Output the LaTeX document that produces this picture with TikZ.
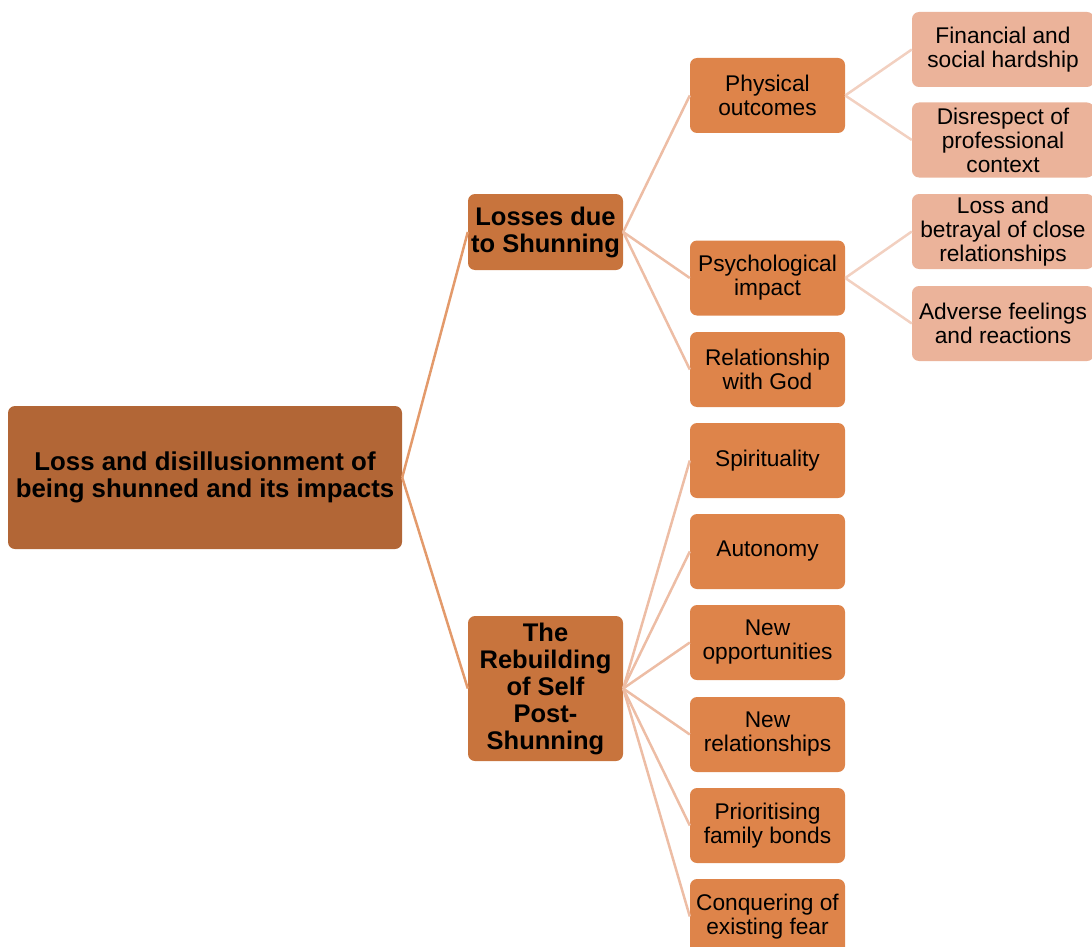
\documentclass[tikz,border=0pt]{standalone}
\usepackage{fontspec}
\setmainfont{Liberation Sans}
\begin{document}
\definecolor{rootc}{HTML}{B26636}
\definecolor{lvonec}{HTML}{C8743D}
\definecolor{lvtwoc}{HTML}{DE844A}
\definecolor{lvthreec}{HTML}{EBB39A}
\definecolor{linea}{HTML}{E39A6B}
\definecolor{lineb}{HTML}{EDBDA5}
\definecolor{linec}{HTML}{F2D0C0}
\begin{tikzpicture}[x=1pt,y=-1pt,
  box/.style={rounded corners=7pt, inner sep=0pt, align=center, text=black},
  rootbox/.style={box, fill=rootc, minimum width=394pt, minimum height=143pt,
    font=\bfseries\fontsize{25.8}{27}\selectfont},
  lvone/.style={box, fill=lvonec, minimum width=155pt, font=\bfseries\fontsize{25.5}{27}\selectfont},
  lvtwo/.style={box, fill=lvtwoc, minimum width=155pt, minimum height=75pt,
    font=\fontsize{22.7}{24}\selectfont},
  lvthree/.style={box, fill=lvthreec, minimum width=182pt, minimum height=75pt,
    font=\fontsize{22.7}{24}\selectfont},
  conna/.style={draw=linea, line width=2.5pt},
  connb/.style={draw=lineb, line width=2.5pt},
  connc/.style={draw=linec, line width=2.5pt}]
\useasboundingbox (0,0) rectangle (1092,947);

% root
\node[rootbox] (root) at (205,477.5) {Loss and disillusionment of\\being shunned and its impacts};

% first level
\node[lvone, minimum height=76pt] (loss) at (545.5,232) {Losses due\\to Shunning};
\node[lvone, minimum height=145pt] (rebuild) at (545.5,688.5) {The\\Rebuilding\\of Self\\Post-\\Shunning};

% second level under losses
\node[lvtwo] (phys) at (767.5,95.5) {Physical\\outcomes};
\node[lvtwo] (psych) at (767.5,278) {Psychological\\impact};
\node[lvtwo] (god) at (767.5,369.5) {Relationship\\with God};

% second level under rebuilding
\node[lvtwo] (spirit) at (767.5,460.5) {Spirituality};
\node[lvtwo] (auto) at (767.5,551.5) {Autonomy};
\node[lvtwo] (opp) at (767.5,642.5) {New\\opportunities};
\node[lvtwo] (rel) at (767.5,734.5) {New\\relationships};
\node[lvtwo] (fam) at (767.5,825.5) {Prioritising\\family bonds};
\node[lvtwo] (fear) at (767.5,916.5) {Conquering of\\existing fear};

% third level
\node[lvthree] (fin) at (1003,49.5) {Financial and\\social hardship};
\node[lvthree] (dis) at (1003,140) {Disrespect of\\professional\\context};
\node[lvthree] (betray) at (1003,231.5) {Loss and\\betrayal of close\\relationships};
\node[lvthree] (adv) at (1003,323.5) {Adverse feelings\\and reactions};

% connectors
\draw[conna] (root.east) -- (loss.west);
\draw[conna] (root.east) -- (rebuild.west);
\foreach \c in {phys,psych,god} \draw[connb] (loss.east) -- (\c.west);
\foreach \c in {spirit,auto,opp,rel,fam,fear} \draw[connb] (rebuild.east) -- (\c.west);
\foreach \c in {fin,dis} \draw[connc] (phys.east) -- (\c.west);
\foreach \c in {betray,adv} \draw[connc] (psych.east) -- (\c.west);
\end{tikzpicture}
\end{document}
